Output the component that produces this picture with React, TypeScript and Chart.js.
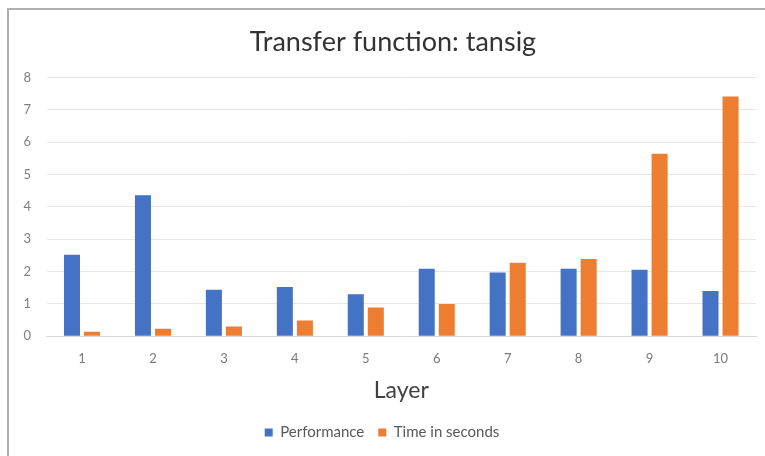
import React, { useEffect, useRef } from "react";
import { Chart, registerables } from "chart.js";

Chart.register(...registerables);

const categories = ["1", "2", "3", "4", "5", "6", "7", "8", "9", "10"];
const performance = [2.52, 4.36, 1.44, 1.52, 1.3, 2.09, 1.97, 2.09, 2.06, 1.4];
const timeInSeconds = [0.14, 0.23, 0.3, 0.49, 0.89, 1.0, 2.27, 2.39, 5.64, 7.41];
const seriesNames = ["Performance", "Time in seconds"];
const chartTitle = "Transfer function: tansig";
const xTitle = "Layer";

const FONT = "Lato, 'Open Sans', sans-serif";

const shiftTitle = {
  id: "shiftTitle",
  afterLayout(chart: any) {
    const t = chart.titleBlock;
    if (t) {
      t.left += 11;
      t.right += 11;
    }
  },
};

export default function App() {
  const ref = useRef<HTMLCanvasElement | null>(null);

  useEffect(() => {
    if (!ref.current) return;
    const chart = new Chart(ref.current, {
      type: "bar",
      data: {
        labels: categories,
        datasets: [
          {
            label: seriesNames[0],
            data: performance,
            backgroundColor: "#4472C4",
            categoryPercentage: 0.565,
            barPercentage: 0.8,
          },
          {
            label: seriesNames[1],
            data: timeInSeconds,
            backgroundColor: "#ED7D31",
            categoryPercentage: 0.565,
            barPercentage: 0.8,
          },
        ],
      },
      plugins: [shiftTitle],
      options: {
        animation: false,
        responsive: false,
        maintainAspectRatio: false,
        layout: { padding: { left: 0, right: 20, top: 17, bottom: 6 } },
        plugins: {
          title: {
            display: true,
            text: chartTitle,
            color: "#333333",
            font: { family: FONT, size: 27, weight: "normal" },
            padding: { top: 0, bottom: 19 },
          },
          legend: {
            display: true,
            position: "bottom",
            labels: {
              boxWidth: 8,
              boxHeight: 8,
              padding: 14,
              color: "#595959",
              font: { family: FONT, size: 15 },
            },
          },
          tooltip: { enabled: false },
        },
        scales: {
          x: {
            grid: { display: false, drawTicks: false },
            border: { display: true, color: "#d9d9d9", width: 1 },
            ticks: {
              color: "#7a7a7a",
              font: { family: FONT, size: 13 },
              padding: 15,
            },
            title: {
              display: true,
              text: xTitle,
              color: "#404040",
              font: { family: FONT, size: 23 },
              padding: { top: -5.5, bottom: 7 },
            },
          },
          y: {
            min: 0,
            max: 8,
            ticks: {
              stepSize: 1,
              color: "#7f7f7f",
              font: { family: FONT, size: 13 },
              padding: 15.5,
            },
            grid: { color: "#e6e6e6", lineWidth: 1, drawTicks: false },
            border: { display: false },
          },
        },
      },
    });
    return () => chart.destroy();
  }, []);

  return (
    <div style={{ position: "fixed", left: 0, top: 0, width: 765, height: 456, overflow: "hidden", background: "#fff" }}>
      <div
        style={{
          position: "absolute",
          left: 7,
          top: 8,
          width: 800,
          height: 500,
          borderTop: "2px solid #b0b0b0",
          borderLeft: "2px solid #b0b0b0",
        }}
      />
      <canvas
        ref={ref}
        width={768}
        height={447}
        style={{ position: "absolute", left: 8, top: 9, width: 768, height: 447 }}
      />
    </div>
  );
}
